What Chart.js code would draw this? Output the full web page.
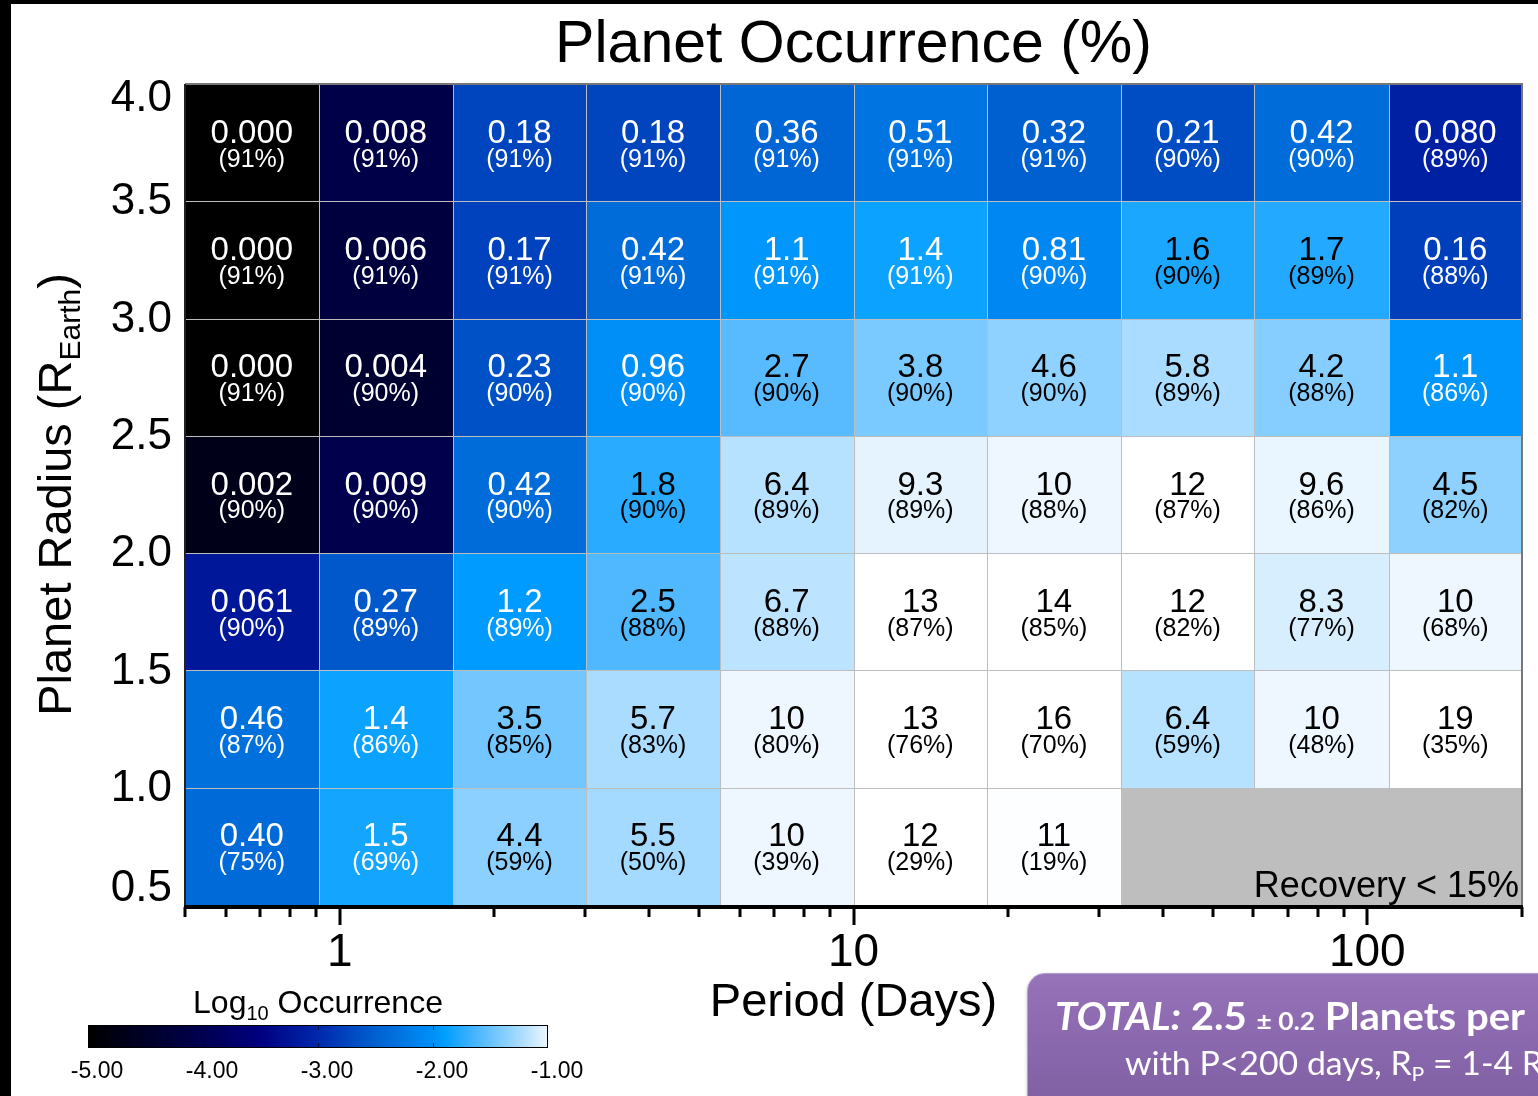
<!DOCTYPE html>
<html>
<head>
<meta charset="utf-8">
<script src="https://cdn.jsdelivr.net/npm/chart.js@4.4.1/dist/chart.umd.min.js"></script>
<style>
html,body{margin:0;padding:0;background:#fff;}
#wrap{position:relative;width:1538px;height:1096px;overflow:hidden;background:#fff;}
#c{position:absolute;left:0;top:0;}
.frameTop{position:absolute;left:0;top:0;width:1538px;height:4px;background:#000;}
.frameLeft{position:absolute;left:0;top:0;width:11px;height:1096px;background:#000;}
#total{position:absolute;left:1027px;top:973px;width:600px;height:160px;border-radius:18px;
  background:linear-gradient(#9773ba,#7a5a9d);border:1px solid #b49bd0;
  box-shadow:1px 2px 4px rgba(0,0,0,0.35);color:#fff;font-family:Lato,"Open Sans",sans-serif;}
#total .l1{position:absolute;left:27px;top:22px;font-size:38px;font-weight:bold;white-space:nowrap;line-height:1;transform-origin:0 0;}
#total .l1 .pm{font-size:25px;}
#total .l2{position:absolute;left:97px;top:73px;font-size:32px;white-space:nowrap;line-height:1;transform-origin:0 0;}
#total .l2 sub{font-size:20px;vertical-align:-6px;line-height:0;}
</style>
</head>
<body>
<div id="wrap">
  <canvas id="c" width="1538" height="1096"></canvas>
  <div class="frameTop"></div>
  <div class="frameLeft"></div>
  <div id="total">
    <div class="l1"><i>TOTAL:</i> 2.5 <span class="pm">± 0.2</span> Planets per</div>
    <div class="l2">with P&lt;200 days, R<sub>P</sub> = 1-4 R</div>
  </div>
</div>
<script>
// ---------- DATA ----------
const chartTitle = 'Planet Occurrence (%)';
const xTitle = 'Period (Days)';
const periodEdges = [0.5, 0.91, 1.66, 3.02, 5.49, 10, 18.2, 33.1, 60.3, 110, 200];
const radiusEdges = [0.5, 1.0, 1.5, 2.0, 2.5, 3.0, 3.5, 4.0];
const periodTickLabels = [1, 10, 100];
const radiusTickLabels = ['0.5', '1.0', '1.5', '2.0', '2.5', '3.0', '3.5', '4.0'];
const colorbarTickLabels = ['-5.00', '-4.00', '-3.00', '-2.00', '-1.00'];
const recoveryCutLabel = 'Recovery < 15%';

// occurrence (%) and recovery (%) per period bin, one array per radius bin (null = recovery < 15%)
const occ_05_10 = [0.40, 1.5, 4.4, 5.5, 10, 12, 11, null, null, null];
const rec_05_10 = [75, 69, 59, 50, 39, 29, 19, null, null, null];
const occ_10_15 = [0.46, 1.4, 3.5, 5.7, 10, 13, 16, 6.4, 10, 19];
const rec_10_15 = [87, 86, 85, 83, 80, 76, 70, 59, 48, 35];
const occ_15_20 = [0.061, 0.27, 1.2, 2.5, 6.7, 13, 14, 12, 8.3, 10];
const rec_15_20 = [90, 89, 89, 88, 88, 87, 85, 82, 77, 68];
const occ_20_25 = [0.002, 0.009, 0.42, 1.8, 6.4, 9.3, 10, 12, 9.6, 4.5];
const rec_20_25 = [90, 90, 90, 90, 89, 89, 88, 87, 86, 82];
const occ_25_30 = [0.000, 0.004, 0.23, 0.96, 2.7, 3.8, 4.6, 5.8, 4.2, 1.1];
const rec_25_30 = [91, 90, 90, 90, 90, 90, 90, 89, 88, 86];
const occ_30_35 = [0.000, 0.006, 0.17, 0.42, 1.1, 1.4, 0.81, 1.6, 1.7, 0.16];
const rec_30_35 = [91, 91, 91, 91, 91, 91, 90, 90, 89, 88];
const occ_35_40 = [0.000, 0.008, 0.18, 0.18, 0.36, 0.51, 0.32, 0.21, 0.42, 0.080];
const rec_35_40 = [91, 91, 91, 91, 91, 91, 91, 90, 90, 89];

// ---------- STYLE ----------
const FONT = '"Liberation Sans", Arial, Helvetica, sans-serif';
const cmapStops = [[-5,0,0,0],[-4,0,0,80],[-3.5,0,0,128],[-3,0,40,172],[-2.5,0,96,208],[-2,0,144,248],
  [-1.9,0,158,255],[-1.6,80,184,255],[-1.4,128,204,255],[-1.2,180,224,255],[-1.0,238,247,255],[-0.95,255,255,255]];
function cmap(lg){
  if (!isFinite(lg) || lg <= cmapStops[0][0]) { const s = cmapStops[0]; return `rgb(${s[1]},${s[2]},${s[3]})`; }
  for (let i = 1; i < cmapStops.length; i++) {
    const a = cmapStops[i-1], b = cmapStops[i];
    if (lg <= b[0]) {
      const t = (lg - a[0]) / (b[0] - a[0]);
      const c = [1,2,3].map(k => Math.round(a[k] + t*(b[k]-a[k])));
      return `rgb(${c[0]},${c[1]},${c[2]})`;
    }
  }
  return 'rgb(255,255,255)';
}
function fmt(v){ return v < 0.01 ? v.toFixed(3) : v.toPrecision(2); }

const rows = [
  {lo: 0.5, hi: 1.0, occ: occ_05_10, rec: rec_05_10},
  {lo: 1.0, hi: 1.5, occ: occ_10_15, rec: rec_10_15},
  {lo: 1.5, hi: 2.0, occ: occ_15_20, rec: rec_15_20},
  {lo: 2.0, hi: 2.5, occ: occ_20_25, rec: rec_20_25},
  {lo: 2.5, hi: 3.0, occ: occ_25_30, rec: rec_25_30},
  {lo: 3.0, hi: 3.5, occ: occ_30_35, rec: rec_30_35},
  {lo: 3.5, hi: 4.0, occ: occ_35_40, rec: rec_35_40},
];
const cells = [];
rows.forEach(r => r.occ.forEach((v, i) => cells.push({
  x0: periodEdges[i], x1: periodEdges[i+1], y0: r.lo, y1: r.hi, v: v, rec: r.rec[i],
  x: Math.sqrt(periodEdges[i]*periodEdges[i+1]), y: (r.lo + r.hi)/2
})));

function cellBox(c, xs, ys){
  const L = Math.round(xs.getPixelForValue(c.x0)), R = Math.round(xs.getPixelForValue(c.x1));
  const T = Math.round(ys.getPixelForValue(c.y1)), B = Math.round(ys.getPixelForValue(c.y0));
  return {L, R, T, B};
}

const heatPlugin = {
  id: 'heat',
  afterDatasetsDraw(chart){
    const ctx = chart.ctx, a = chart.chartArea, xs = chart.scales.x, ys = chart.scales.y;
    ctx.save();
    // cells
    cells.forEach(c => {
      const b = cellBox(c, xs, ys);
      ctx.fillStyle = c.v === null ? '#bebebe' : cmap(Math.log10(c.v/100));
      ctx.fillRect(b.L, b.T, b.R - b.L, b.B - b.T);
    });
    ctx.strokeStyle = '#bdbdbd'; ctx.lineWidth = 1;
    cells.forEach(c => {
      if (c.v === null) return;
      const b = cellBox(c, xs, ys);
      ctx.strokeRect(b.L + 0.5, b.T + 0.5, b.R - b.L, b.B - b.T);
    });
    // cell texts
    ctx.textAlign = 'center'; ctx.textBaseline = 'middle';
    cells.forEach(c => {
      if (c.v === null) return;
      const cx = xs.getPixelForValue(c.x), cy = ys.getPixelForValue(c.y);
      ctx.fillStyle = c.v < 1.55 ? '#ffffff' : '#000000';
      ctx.font = `33px ${FONT}`;
      ctx.fillText(fmt(c.v), cx, cy - 9);
      ctx.font = `25px ${FONT}`;
      ctx.fillText(`(${c.rec}%)`, cx, cy + 17);
    });
    // recovery label
    ctx.fillStyle = '#000'; ctx.font = `36px ${FONT}`;
    ctx.textAlign = 'right'; ctx.textBaseline = 'alphabetic';
    ctx.fillText(recoveryCutLabel, a.right - 3, a.bottom - 8);
    // frame
    ctx.strokeStyle = '#777'; ctx.lineWidth = 2;
    ctx.beginPath(); ctx.moveTo(a.left, a.top); ctx.lineTo(a.right, a.top); ctx.lineTo(a.right, a.bottom); ctx.stroke();
    ctx.strokeStyle = '#222'; ctx.lineWidth = 2;
    ctx.beginPath(); ctx.moveTo(a.left, a.top); ctx.lineTo(a.left, a.bottom); ctx.stroke();
    ctx.fillStyle = '#000';
    ctx.fillRect(a.left - 1, a.bottom, a.right - a.left + 2, 4);
    // x ticks
    const minors = [];
    for (let e = -1; e <= 2; e++) for (let k = 1; k <= 9; k++) {
      const v = k * Math.pow(10, e);
      if (v >= 0.5 - 1e-9 && v <= 200 + 1e-9) minors.push(v);
    }
    minors.forEach(v => {
      const px = xs.getPixelForValue(v);
      const major = periodTickLabels.includes(v);
      ctx.fillRect(Math.round(px) - 1.5, a.bottom + 2, 3, major ? 18 : 10);
    });
    ctx.font = `46px ${FONT}`; ctx.textAlign = 'center'; ctx.textBaseline = 'alphabetic';
    periodTickLabels.forEach(v => ctx.fillText(String(v), xs.getPixelForValue(v), 966));
    ctx.font = `47px ${FONT}`;
    ctx.fillText(xTitle, (a.left + a.right)/2, 1016);
    // y tick labels
    ctx.font = `44px ${FONT}`; ctx.textAlign = 'right'; ctx.textBaseline = 'middle';
    radiusTickLabels.forEach(t => {
      let py = ys.getPixelForValue(parseFloat(t));
      py = Math.max(a.top + 14, Math.min(a.bottom - 17, py));
      ctx.fillText(t, a.left - 13, py + 1);
    });
    // title
    ctx.font = `59px ${FONT}`; ctx.textAlign = 'center'; ctx.textBaseline = 'alphabetic';
    ctx.fillText(chartTitle, (a.left + a.right)/2, 62);
    // y title with subscript
    ctx.save();
    ctx.translate(71, (a.top + a.bottom)/2);
    ctx.rotate(-Math.PI/2);
    const p1 = 'Planet Radius (R', p2 = 'Earth', p3 = ')';
    ctx.font = `47px ${FONT}`; const w1 = ctx.measureText(p1).width, w3 = ctx.measureText(p3).width;
    ctx.font = `30px ${FONT}`; const w2 = ctx.measureText(p2).width;
    let sx = -(w1 + w2 + w3)/2;
    ctx.textAlign = 'left';
    ctx.font = `47px ${FONT}`; ctx.fillText(p1, sx, 0); sx += w1;
    ctx.font = `30px ${FONT}`; ctx.fillText(p2, sx, 9); sx += w2;
    ctx.font = `47px ${FONT}`; ctx.fillText(p3, sx, 0);
    ctx.restore();
    // colorbar
    const cbL = 88, cbR = 548, cbT = 1025, cbB = 1048;
    const g = ctx.createLinearGradient(cbL, 0, cbR, 0);
    for (let s = 0; s <= 80; s++) { const lg = -5 + 4*s/80; g.addColorStop(s/80, cmap(lg)); }
    ctx.fillStyle = g; ctx.fillRect(cbL, cbT, cbR - cbL, cbB - cbT);
    ctx.strokeStyle = '#000'; ctx.lineWidth = 1;
    ctx.strokeRect(cbL + 0.5, cbT + 0.5, cbR - cbL - 1, cbB - cbT - 1);
    ctx.strokeStyle = 'rgba(0,0,0,0.6)';
    colorbarTickLabels.forEach((t, i) => {
      const px = Math.round(cbL + (cbR - cbL) * i / (colorbarTickLabels.length - 1)) + 0.5;
      if (i > 0 && i < colorbarTickLabels.length - 1) {
        ctx.beginPath(); ctx.moveTo(px, cbT); ctx.lineTo(px, cbT + 5); ctx.moveTo(px, cbB); ctx.lineTo(px, cbB - 5); ctx.stroke();
      }
    });
    ctx.fillStyle = '#000'; ctx.font = `23px ${FONT}`; ctx.textAlign = 'center'; ctx.textBaseline = 'middle';
    colorbarTickLabels.forEach((t, i) => {
      const px = cbL + (cbR - cbL) * i / (colorbarTickLabels.length - 1);
      ctx.fillText(t, px + 9, 1072);
    });
    // colorbar title
    ctx.textBaseline = 'alphabetic'; ctx.textAlign = 'left';
    ctx.font = `32px ${FONT}`; const t1 = 'Log', t3 = ' Occurrence';
    const wa = ctx.measureText(t1).width, wc = ctx.measureText(t3).width;
    ctx.font = `20px ${FONT}`; const wb = ctx.measureText('10').width;
    let tx = 318 - (wa + wb + wc)/2;
    ctx.font = `32px ${FONT}`; ctx.fillText(t1, tx, 1013); tx += wa;
    ctx.font = `20px ${FONT}`; ctx.fillText('10', tx, 1020); tx += wb;
    ctx.font = `32px ${FONT}`; ctx.fillText(t3, tx, 1013);
    ctx.restore();
  }
};

new Chart(document.getElementById('c'), {
  type: 'scatter',
  data: { datasets: [{ data: cells.map(c => ({x: c.x, y: c.y})), pointRadius: 0, pointHoverRadius: 0 }] },
  options: {
    responsive: false, animation: false, events: [],
    layout: { padding: { left: 185, top: 84, right: 16, bottom: 191 } },
    plugins: { legend: { display: false }, tooltip: { enabled: false }, title: { display: false } },
    scales: {
      x: { type: 'logarithmic', min: 0.5, max: 200, display: false },
      y: { type: 'linear', min: 0.5, max: 4.0, display: false }
    }
  },
  plugins: [heatPlugin]
});

// fit the summary box lines to the reference widths
function fitLine(sel, w){ const el = document.querySelector(sel); const cw = el.getBoundingClientRect().width; if (cw > 0) el.style.transform = `scaleX(${w/cw})`; }
fitLine('#total .l1', 470);
fitLine('#total .l2', 418);
</script>
</body>
</html>
